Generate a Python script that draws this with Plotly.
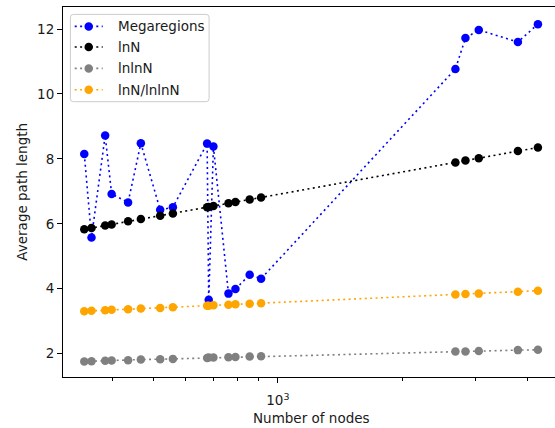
import plotly.graph_objects as go

nodes = [341, 355, 383, 397, 435, 467, 520, 558, 675, 681, 699, 760, 790, 855, 911,
         2683, 2837, 3055, 3797, 4244]
megaregions = [8.15, 5.58, 8.72, 6.92, 6.66, 8.48, 6.43, 6.51, 8.47, 3.66, 8.38, 3.85,
               3.99, 4.43, 4.31, 10.77, 11.72, 11.97, 11.60, 12.15]
ln_n = [5.83, 5.87, 5.95, 5.98, 6.08, 6.15, 6.25, 6.32, 6.51, 6.52, 6.55, 6.63,
        6.67, 6.75, 6.81, 7.89, 7.95, 8.02, 8.24, 8.35]
lnln_n = [1.76, 1.77, 1.78, 1.79, 1.80, 1.82, 1.83, 1.84, 1.87, 1.88, 1.88, 1.89,
          1.90, 1.91, 1.92, 2.07, 2.07, 2.08, 2.11, 2.12]
ratio = [3.31, 3.32, 3.34, 3.35, 3.37, 3.39, 3.41, 3.43, 3.48, 3.48, 3.49, 3.51,
         3.52, 3.54, 3.55, 3.82, 3.84, 3.85, 3.91, 3.94]

series = [
    ("Megaregions", megaregions, "#0000ff"),
    ("lnN", ln_n, "#000000"),
    ("lnlnN", lnln_n, "#808080"),
    ("lnN/lnlnN", ratio, "#ffa500"),
]

FONT = "DejaVu Sans"
FS = 13.5
TXT = "#1a1a1a"
DASH = "2px,3.4px"
MSIZE = 8.5

L, R, T, B = 63.3, 555, 7.3, 377.3
W, H = 555, 428


def px(x):
    return (x - L) / (R - L)


def py(y):
    return (B - y) / (B - T)


fig = go.Figure()
for name, vals, col in series:
    fig.add_trace(go.Scatter(
        x=nodes, y=vals, name=name, mode="lines+markers",
        line=dict(color=col, width=1.6, dash=DASH),
        marker=dict(color=col, size=MSIZE, line=dict(width=0)),
        showlegend=False,
    ))

# legend box (matplotlib style, rounded)
bx0, by0, bx1, by1, rr = 70.7, 14.7, 209.3, 102.0, 3
path = (f"M {px(bx0 + rr)},{py(by0)} L {px(bx1 - rr)},{py(by0)} "
        f"Q {px(bx1)},{py(by0)} {px(bx1)},{py(by0 + rr)} "
        f"L {px(bx1)},{py(by1 - rr)} Q {px(bx1)},{py(by1)} {px(bx1 - rr)},{py(by1)} "
        f"L {px(bx0 + rr)},{py(by1)} Q {px(bx0)},{py(by1)} {px(bx0)},{py(by1 - rr)} "
        f"L {px(bx0)},{py(by0 + rr)} Q {px(bx0)},{py(by0)} {px(bx0 + rr)},{py(by0)} Z")
shapes = [dict(type="path", xref="paper", yref="paper", path=path,
               fillcolor="rgba(255,255,255,0.8)", line=dict(color="#cccccc", width=1),
               layer="above")]
annotations = []
row_y = [26.7, 47.3, 68.7, 90.0]
for (name, vals, col), yy in zip(series, row_y):
    shapes.append(dict(type="line", xref="paper", yref="paper",
                       x0=px(75), x1=px(103), y0=py(yy), y1=py(yy),
                       line=dict(color=col, width=1.6, dash=DASH), layer="above"))
    r = MSIZE / 2
    shapes.append(dict(type="circle", xref="paper", yref="paper",
                       x0=px(89 - r), x1=px(89 + r), y0=py(yy + r), y1=py(yy - r),
                       fillcolor=col, line=dict(width=0), layer="above"))
    annotations.append(dict(text=name, xref="paper", yref="paper",
                            x=px(116), y=py(yy), xanchor="left", yanchor="middle",
                            showarrow=False,
                            font=dict(family=FONT, size=FS, color=TXT)))

annotations += [
    dict(text="Number of nodes", xref="paper", yref="paper",
         x=px(311.6), y=py(418),
         xanchor="center", yanchor="middle", showarrow=False,
         font=dict(family=FONT, size=FS, color=TXT)),
    dict(text="Average path length", xref="paper", yref="paper",
         x=px(22), y=0.5, textangle=-90,
         xanchor="center", yanchor="middle", showarrow=False,
         font=dict(family=FONT, size=FS, color=TXT)),
]

fig.update_layout(
    width=W, height=H,
    margin=dict(l=L, r=W - R, t=T, b=H - B, pad=0),
    paper_bgcolor="white", plot_bgcolor="white",
    font=dict(family=FONT, size=FS, color=TXT),
    showlegend=False,
    xaxis=dict(
        type="log", range=[2.4814, 3.669],
        showgrid=False, zeroline=False,
        showline=True, linecolor="black", linewidth=1, mirror=True,
        ticks="outside", ticklen=5, tickwidth=1, tickcolor="black",
        tickvals=[1000], ticktext=["10<sup>3</sup>"],
        ticklabelstandoff=6,
        tickfont=dict(family=FONT, size=FS, color=TXT),
        minor=dict(ticks="outside", ticklen=3, tickwidth=0.8, tickcolor="black",
                   tickvals=[400, 500, 600, 700, 800, 900, 2000, 3000, 4000],
                   showgrid=False),
    ),
    yaxis=dict(
        range=[1.282, 12.678],
        showgrid=False, zeroline=False,
        showline=True, linecolor="black", linewidth=1, mirror=False,
        ticks="outside", ticklen=5, tickwidth=1, tickcolor="black",
        tickvals=[2, 4, 6, 8, 10, 12],
        tickfont=dict(family=FONT, size=FS, color=TXT),
    ),
    shapes=shapes,
    annotations=annotations,
)

fig.write_html("out.html", config={"displayModeBar": False})
